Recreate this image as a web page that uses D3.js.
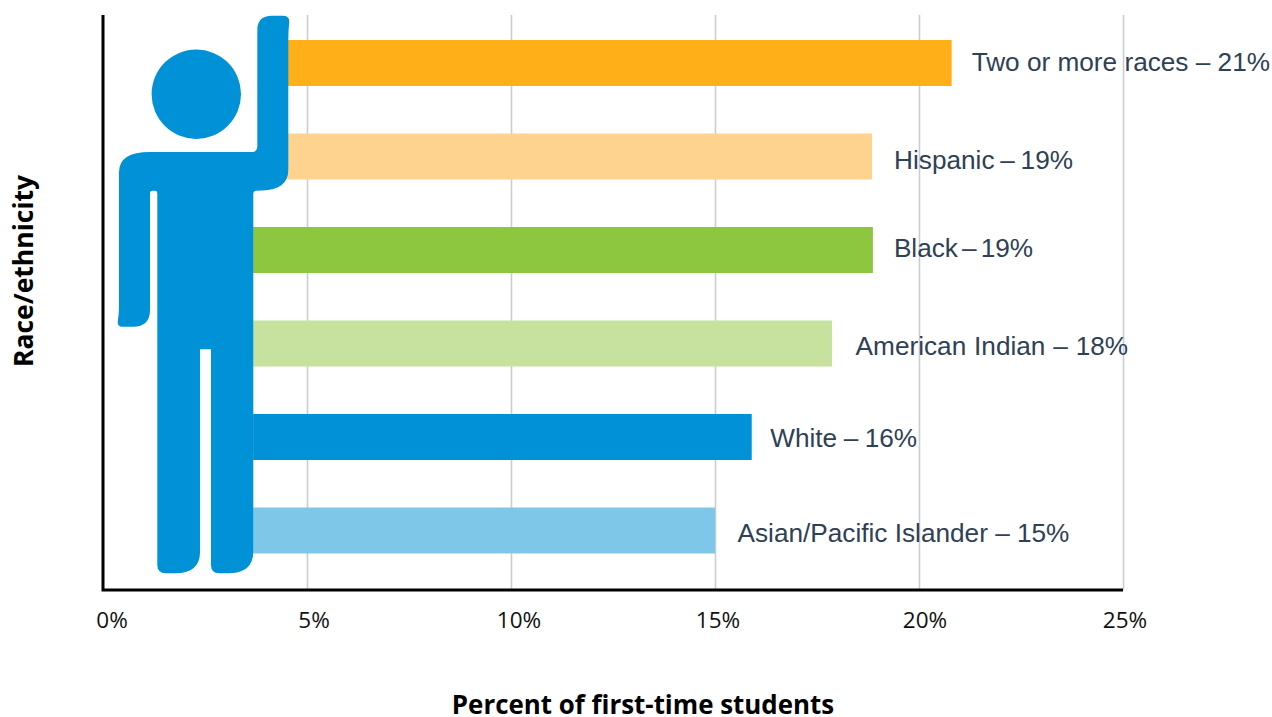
<!DOCTYPE html>
<html><head><meta charset="utf-8">
<script src="https://cdn.jsdelivr.net/npm/d3@7"></script>
<style>html,body{margin:0;padding:0;background:#fff}svg{display:block}</style></head>
<body><svg id="c" width="1272" height="717"></svg>
<script>
const categories=["Two or more races","Hispanic","Black","American Indian","White","Asian/Pacific Islander"];
const values=[20.8,18.85,18.87,17.87,15.9,15.0];
const hiddenBehindFigure=[4.5,4.5,3.68,3.68,3.68,3.68];
const labels=["Two or more races – 21%","Hispanic – 19%","Black – 19%","American Indian – 18%","White – 16%","Asian/Pacific Islander – 15%"];
const colors=["#ffaf17","#fed38f","#8dc73f","#c7e29f","#0191d7","#7fc7e9"];
const tickValues=[0,5,10,15,20,25];
const tickLabels=["0%","5%","10%","15%","20%","25%"];
const labelGap=[20,22,21,23.5,18.5,22.5];
const labelY=[62,160,248,346,438,533];
const labelWordSpacing=[0,-1.5,-3.2,0.6,-0.8,0];
const tickNudge=[9,7,8,3,6,2];

const svg=d3.select("#c");
const x=d3.scaleLinear().domain([0,25]).range([103,1123]);
const y=d3.scalePoint().domain(categories).range([63,530.5]);
const barH=46, plotTop=15, plotBottom=590;

const grid=d3.axisBottom(x).tickValues(tickValues.slice(1)).tickSize(-(plotBottom-plotTop)).tickFormat("");
const g=svg.append("g").attr("transform",`translate(0,${plotBottom})`).call(grid);
g.select(".domain").remove();
g.selectAll("line").attr("stroke","#c9ccd3").attr("stroke-width",1.6);

svg.append("g").selectAll("rect").data(categories).join("rect")
 .attr("x",(d,i)=>x(hiddenBehindFigure[i]))
 .attr("y",d=>y(d)-barH/2)
 .attr("width",(d,i)=>x(values[i])-x(hiddenBehindFigure[i]))
 .attr("height",barH)
 .attr("fill",(d,i)=>colors[i]);

svg.append("path").attr("fill","#0191d7").attr("d",
"M257.3 30Q257.3 15.7 272 15.7L283 15.7Q289.5 15.7 289.3 22Q288.5 28 288.3 40L288.3 170Q288 190 262 190.5L256 190.8Q253.3 191 253.3 194L253.3 552Q253 573.3 228 573.3L219 573.3Q211 573 211 565L211 349.3L200 349.3L200 552Q200 573.3 175 573.3L166 573.3Q157.3 573 157.3 565L157.3 193Q157.3 190.7 155 190.7L152.5 190.7Q150 190.7 150 193L150 310Q150 326.7 133 326.7L122 326.7Q117.7 326.7 117.7 322Q119 315 119 305L119 172Q119 152 150 152L252 152Q257.3 152 257.3 146Z");
svg.append("circle").attr("cx",196.3).attr("cy",94.2).attr("r",44.7).attr("fill","#0191d7");

svg.append("path").attr("fill","none").attr("stroke","#000").attr("stroke-width",3)
 .attr("d",`M${x(0)} ${plotTop}V${plotBottom}H${x(25)}`);

svg.append("g").selectAll("text").data(labels).join("text")
 .attr("x",(d,i)=>x(values[i])+labelGap[i])
 .attr("y",(d,i)=>labelY[i]+9)
 .attr("font-family","Liberation Sans").attr("font-size",26.2).attr("fill","#2e4155")
 .attr("word-spacing",(d,i)=>labelWordSpacing[i])
 .text(d=>d);

svg.append("g").selectAll("text").data(tickValues).join("text")
 .attr("x",(d,i)=>x(d)+tickNudge[i]).attr("y",628).attr("text-anchor","middle")
 .attr("font-family","Open Sans").attr("font-size",22.5).attr("fill","#111")
 .text((d,i)=>tickLabels[i]);

svg.append("text").attr("x",643).attr("y",714).attr("text-anchor","middle")
 .attr("font-family","Open Sans").attr("font-weight",700).attr("font-size",25.9).attr("fill","#000")
 .text("Percent of first-time students");
svg.append("text").attr("transform","translate(33,271) rotate(-90)").attr("text-anchor","middle")
 .attr("font-family","Open Sans").attr("font-weight",700).attr("font-size",26.5).attr("fill","#000")
 .text("Race/ethnicity");
</script></body></html>
